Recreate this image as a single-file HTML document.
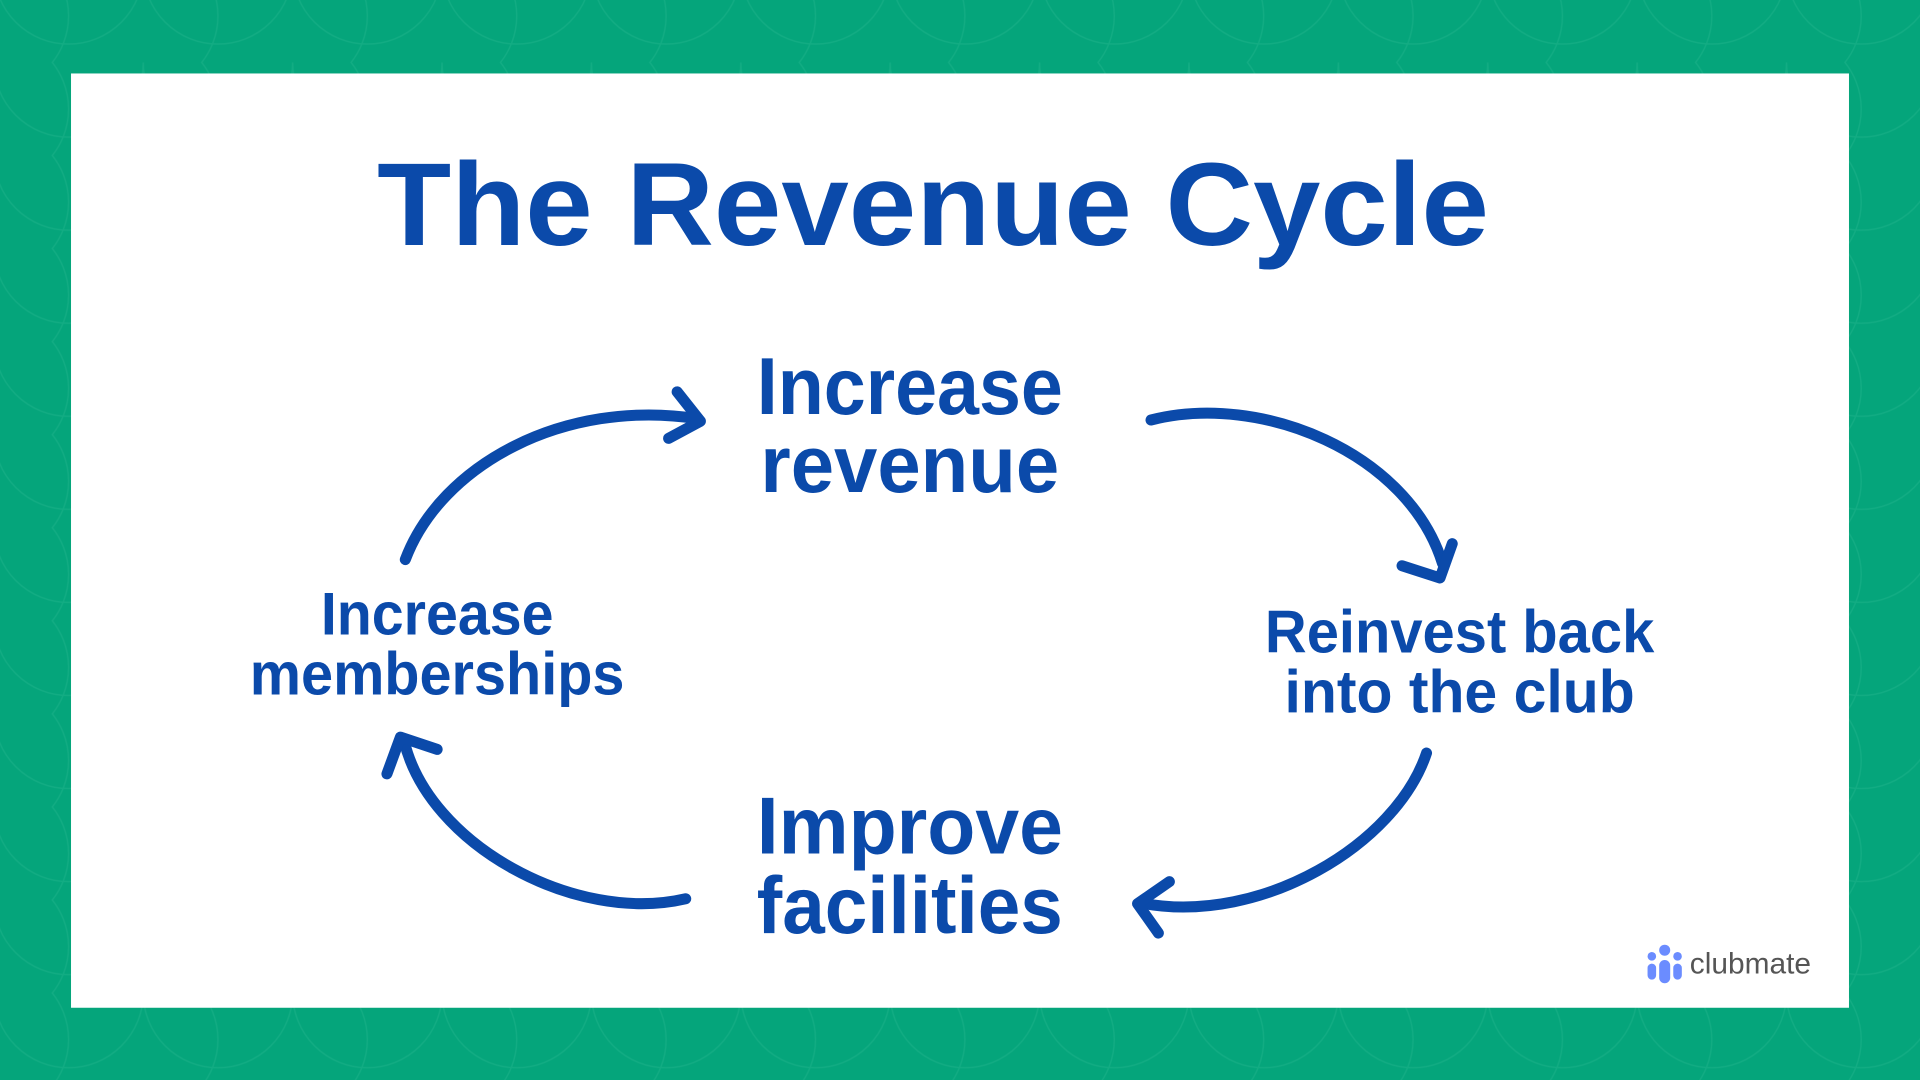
<!DOCTYPE html>
<html><head><meta charset="utf-8"><style>
html,body{margin:0;padding:0;width:1920px;height:1080px;overflow:hidden;background:#05a57b}
svg{display:block}
</style></head><body>
<svg width="1920" height="1080" viewBox="0 0 1568 882" xmlns="http://www.w3.org/2000/svg">
<defs>
<pattern id="sc" width="122" height="76" patternUnits="userSpaceOnUse" x="-5" y="-25">
<circle cx="61" cy="0" r="61" fill="none" stroke="#1bb088" stroke-width="1.2"/>
<circle cx="0" cy="38" r="61" fill="none" stroke="#1bb088" stroke-width="1.2"/>
</pattern>
</defs>
<rect width="1568" height="882" fill="#05a57b"/>
<rect width="1568" height="882" fill="url(#sc)" opacity="0.6"/>
<rect x="58" y="60" width="1452" height="763" fill="#fff"/>
<text x="762" y="200" text-anchor="middle" font-family="Liberation Sans, sans-serif" font-weight="bold" font-size="96" fill="#0b4aaa" textLength="908" lengthAdjust="spacingAndGlyphs">The Revenue Cycle</text>
<g font-family="Liberation Sans, sans-serif" font-weight="bold" fill="#0b4aaa" text-anchor="middle">
<text x="743" y="338" font-size="66" textLength="250" lengthAdjust="spacingAndGlyphs">Increase</text>
<text x="743" y="402" font-size="66" textLength="244" lengthAdjust="spacingAndGlyphs">revenue</text>
<text x="743" y="697" font-size="66" textLength="250" lengthAdjust="spacingAndGlyphs">Improve</text>
<text x="743" y="762" font-size="66" textLength="250" lengthAdjust="spacingAndGlyphs">facilities</text>
<text x="357" y="518" font-size="49" textLength="190" lengthAdjust="spacingAndGlyphs">Increase</text>
<text x="357" y="567" font-size="49" textLength="306" lengthAdjust="spacingAndGlyphs">memberships</text>
<text x="1192" y="533" font-size="49" textLength="318" lengthAdjust="spacingAndGlyphs">Reinvest back</text>
<text x="1192" y="582" font-size="49" textLength="286" lengthAdjust="spacingAndGlyphs">into the club</text>
</g>
<g fill="none" stroke="#0b4aaa" stroke-width="9" stroke-linecap="round" stroke-linejoin="round">
<path d="M331,457 C360,380 460,325 570,342"/>
<path d="M553,320 L572,344 L546,358"/>
<path d="M940,343 C1030,320 1150,370 1178,460"/>
<path d="M1145,462 L1176,472 L1186,444"/>
<path d="M1165,615 C1140,690 1030,755 935,738"/>
<path d="M955,720 L929,738 L946,762"/>
<path d="M560,734 C470,755 350,690 330,605"/>
<path d="M316,632 L327,602 L357,612"/>
</g>
<g fill="#6b8cff">
<circle cx="1359.5" cy="776" r="4.5"/>
<circle cx="1349" cy="781" r="3.5"/>
<circle cx="1370" cy="781" r="3.5"/>
<rect x="1355" y="784" width="9" height="19" rx="4.5"/>
<rect x="1345.5" y="787" width="7" height="13" rx="3.5"/>
<rect x="1366.5" y="787" width="7" height="13" rx="3.5"/>
</g>
<text x="1380" y="795" font-family="Liberation Sans, sans-serif" font-size="24" fill="#555" textLength="99" lengthAdjust="spacingAndGlyphs">clubmate</text>
</svg>
</body></html>
